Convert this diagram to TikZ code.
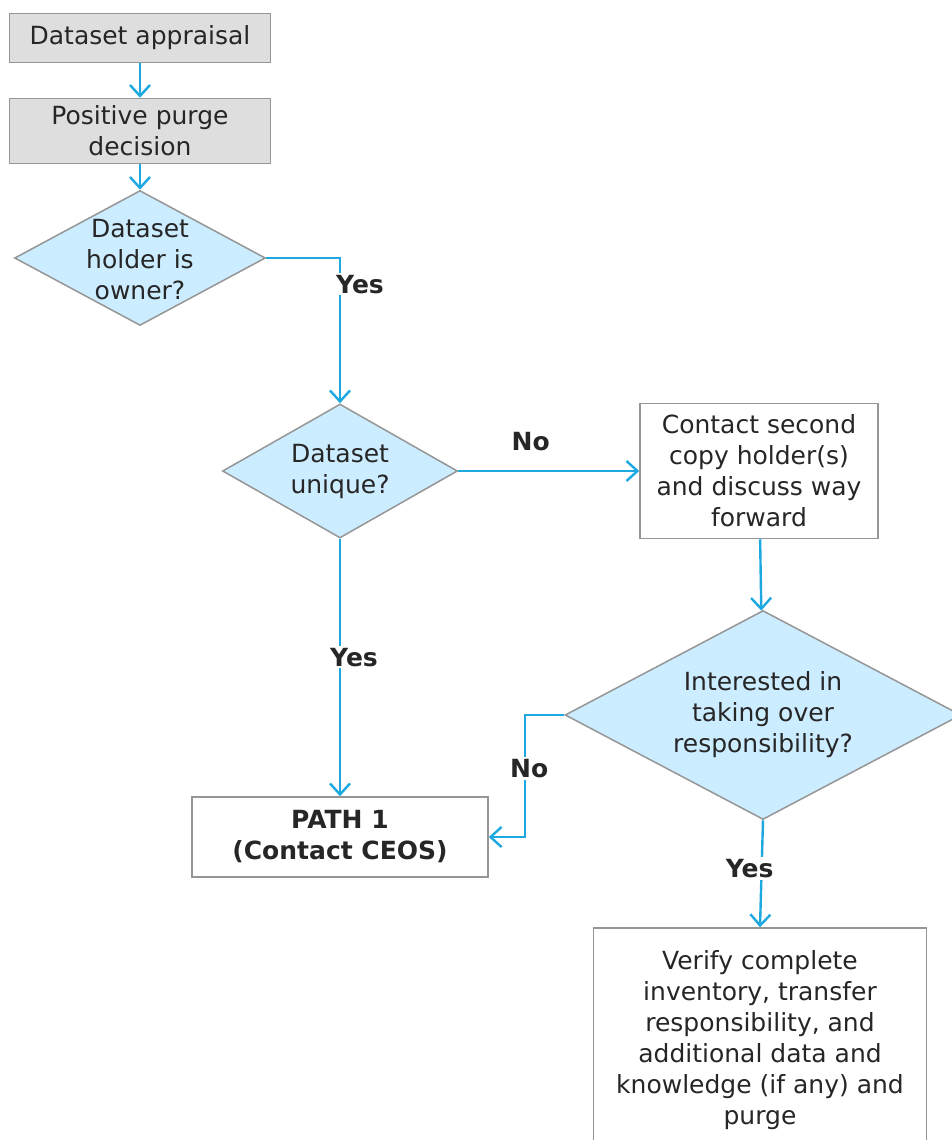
\documentclass[tikz,border=0pt]{standalone}
\usepackage{fontspec}
\setmainfont{DejaVu Sans}
\usetikzlibrary{shapes.geometric,arrows.meta}
\definecolor{flowblue}{RGB}{30,168,224}
\definecolor{dmdblue}{RGB}{204,236,255}
\definecolor{boxgray}{RGB}{222,222,222}
\definecolor{edgegray}{RGB}{150,150,150}

\begin{document}
\begin{tikzpicture}
  [x=1pt,y=-1pt,
   every node/.style={font=\fontsize{25}{31}\selectfont,text=black!85,align=center},
   grey box/.style={rectangle,draw=edgegray,fill=boxgray,line width=1.5pt,inner sep=0pt},
   plain box/.style={rectangle,draw=edgegray,fill=white,line width=1.5pt,inner sep=0pt},
   decision/.style={diamond,draw=edgegray,fill=dmdblue,line width=1.5pt,inner sep=0pt},
   flow/.style={draw=flowblue,line width=2.4pt,-{Straight Barb[length=11pt,width=20pt]}},
   answer/.style={fill=white,inner sep=2pt,font=\fontsize{25}{31}\selectfont\bfseries}]
  \useasboundingbox (0,0) rectangle (952,1140);
  \clip (0,0) rectangle (952,1140);

  \node[grey box,minimum width=261pt,minimum height=49pt] (n1) at (140,38) {Dataset appraisal};
  \node[grey box,minimum width=261pt,minimum height=65pt] (n2) at (140,131) {Positive purge\\decision};
  \node[decision,minimum width=251pt,minimum height=135pt] (d1) at (140,258) {};
  \node (d1t) at (140,260) {Dataset\\holder is\\owner?};
  \node[decision,minimum width=235pt,minimum height=134pt] (d2) at (340,471) {};
  \node (d2t) at (d2) {Dataset\\unique?};
  \node[plain box,minimum width=238pt,minimum height=135pt] (c1) at (759,471) {Contact second\\copy holder(s)\\and discuss way\\forward};
  \node[decision,minimum width=396pt,minimum height=209pt] (d3) at (763,715) {};
  \node (d3t) at (d3) {Interested in\\taking over\\responsibility?};
  \node[plain box,minimum width=296pt,minimum height=80pt,font=\fontsize{25}{31}\selectfont\bfseries] (p1) at (340,837) {PATH 1\\(Contact CEOS)};
  \node[plain box,minimum width=333pt,minimum height=224pt] (v1) at (760,1040) {Verify complete\\inventory, transfer\\responsibility, and\\additional data and\\knowledge (if any) and\\purge};

  \foreach \from/\to in {n1/n2,n2/d1,c1/d3}
    \draw[flow] (\from) -- (\to);

  \draw[flow] (d1.east) -| node[answer,pos=0.59,xshift=20pt] {Yes} (d2.north);
  \draw[flow] (d2.east) -- node[answer,pos=0.4,above=17pt] {No} (c1.west);
  \draw[flow] (d2.south) -- node[answer,pos=0.46,xshift=14pt] {Yes} (p1.north);
  \draw[flow] (d3.west) -- ++(-39,0) |- node[answer,pos=0.22,xshift=4pt] {No} (p1.east);
  \draw[flow] (d3.south) -- node[answer,pos=0.45,xshift=-12pt] {Yes} (v1.north);
\end{tikzpicture}
\end{document}
